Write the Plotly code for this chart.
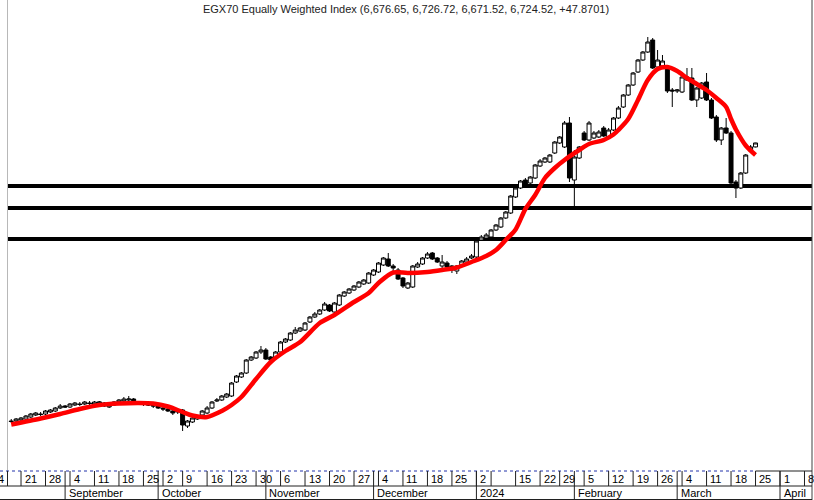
import numpy as np
import pandas as pd
import plotly.graph_objects as go

# ---------------- data ----------------
title_text = "EGX70 Equally Weighted Index (6,676.65, 6,726.72, 6,671.52, 6,724.52, +47.8701)"
holidays = ["2023-09-28", "2023-10-05", "2024-01-01", "2024-01-07", "2024-01-25",
            "2024-04-09", "2024-04-10", "2024-04-11"]
first_day = "2023-08-17"

opens = [3388, 3388, 3400, 3412, 3436, 3460, 3472, 3472, 3496, 3508,
         3544, 3568, 3556, 3580, 3592, 3592, 3604, 3592, 3604, 3604,
         3556, 3580, 3616, 3628, 3640, 3652, 3604, 3592, 3592, 3580,
         3568, 3544, 3532, 3508, 3496, 3520, 3328, 3376, 3412, 3460,
         3484, 3544, 3628, 3640, 3676, 3688, 3856, 3916, 3964, 4120,
         4144, 4216, 4240, 4156, 4144, 4216, 4336, 4360, 4444, 4468,
         4480, 4576, 4636, 4672, 4720, 4780, 4696, 4780, 4888, 4924,
         4960, 4996, 5032, 5044, 5140, 5176, 5260, 5332, 5248, 5200,
         5104, 4984, 4996, 5236, 5272, 5344, 5404, 5344, 5248, 5284,
         5248, 5188, 5248, 5296, 5344, 5356, 5560, 5584, 5596, 5680,
         5716, 5824, 5884, 6076, 6184, 6280, 6244, 6304, 6448, 6496,
         6496, 6604, 6724, 6676, 6964, 6280, 6544, 6844, 6760, 6784,
         6796, 6904, 6796, 6880, 7024, 7156, 7300, 7420, 7576, 7720,
         7816, 7960, 7636, 7648, 7636, 7360, 7348, 7336, 7480, 7504,
         7240, 7264, 7456, 7240, 7036, 6760, 6904, 6844, 6256, 6184,
         6364, 6628, 6676.65]
highs = [3412, 3424, 3436, 3460, 3484, 3496, 3496, 3520, 3532, 3556,
         3592, 3580, 3604, 3616, 3616, 3628, 3628, 3628, 3628, 3616,
         3592, 3628, 3652, 3676, 3688, 3664, 3616, 3616, 3616, 3592,
         3580, 3568, 3544, 3520, 3532, 3532, 3400, 3436, 3460, 3520,
         3568, 3628, 3664, 3700, 3724, 3856, 3940, 3976, 4132, 4168,
         4228, 4288, 4264, 4168, 4228, 4348, 4384, 4456, 4516, 4516,
         4576, 4648, 4696, 4732, 4816, 4792, 4816, 4912, 4948, 4984,
         5020, 5068, 5092, 5176, 5212, 5296, 5356, 5404, 5272, 5224,
         5116, 5056, 5260, 5296, 5356, 5416, 5416, 5356, 5380, 5308,
         5260, 5260, 5320, 5356, 5392, 5584, 5620, 5644, 5692, 5752,
         5836, 5908, 6100, 6196, 6280, 6304, 6328, 6472, 6532, 6556,
         6592, 6748, 6808, 6988, 7036, 6640, 6688, 6868, 6988, 6868,
         6880, 6928, 6904, 7036, 7168, 7312, 7432, 7576, 7732, 7828,
         7996, 7984, 7840, 7780, 7660, 7384, 7372, 7528, 7624, 7624,
         7396, 7456, 7564, 7264, 7060, 6916, 7024, 6868, 6280, 6376,
         6592, 6700, 6726.72]
lows = [3364, 3376, 3388, 3400, 3424, 3448, 3448, 3460, 3484, 3496,
        3532, 3544, 3544, 3568, 3568, 3580, 3580, 3580, 3592, 3556,
        3544, 3568, 3604, 3616, 3628, 3592, 3580, 3568, 3568, 3544,
        3532, 3508, 3496, 3460, 3472, 3268, 3304, 3364, 3400, 3448,
        3472, 3532, 3616, 3628, 3664, 3676, 3844, 3904, 3952, 4108,
        4132, 4192, 4120, 4108, 4132, 4204, 4324, 4348, 4432, 4456,
        4468, 4564, 4624, 4660, 4708, 4696, 4684, 4768, 4876, 4912,
        4948, 4984, 5020, 5032, 5128, 5164, 5248, 5236, 5176, 5080,
        4984, 4972, 4984, 5224, 5260, 5332, 5320, 5284, 5224, 5224,
        5164, 5152, 5236, 5284, 5332, 5344, 5548, 5572, 5584, 5668,
        5704, 5812, 5872, 6064, 6172, 6220, 6232, 6292, 6436, 6484,
        6484, 6592, 6712, 6664, 6256, 5956, 6532, 6748, 6748, 6772,
        6784, 6796, 6784, 6868, 7012, 7144, 7288, 7408, 7564, 7708,
        7804, 7612, 7624, 7624, 7324, 7156, 7324, 7324, 7468, 7228,
        7156, 7252, 7228, 7012, 6736, 6700, 6832, 6232, 6064, 6172,
        6352, 6616, 6671.52]
closes = [3382, 3412, 3424, 3448, 3472, 3484, 3466, 3508, 3520, 3544,
          3568, 3556, 3592, 3604, 3586, 3616, 3598, 3616, 3616, 3568,
          3580, 3616, 3640, 3652, 3652, 3604, 3592, 3604, 3580, 3568,
          3544, 3532, 3508, 3484, 3508, 3340, 3388, 3424, 3448, 3508,
          3544, 3616, 3640, 3688, 3712, 3844, 3928, 3964, 4120, 4156,
          4216, 4240, 4132, 4120, 4216, 4336, 4372, 4444, 4480, 4504,
          4564, 4636, 4672, 4720, 4792, 4708, 4804, 4900, 4936, 4972,
          5008, 5056, 5080, 5164, 5200, 5284, 5344, 5248, 5224, 5092,
          5008, 5044, 5248, 5272, 5344, 5392, 5332, 5296, 5296, 5236,
          5200, 5248, 5308, 5332, 5368, 5548, 5596, 5620, 5680, 5740,
          5824, 5896, 6088, 6184, 6268, 6232, 6316, 6460, 6508, 6544,
          6580, 6736, 6796, 6964, 6304, 6556, 6676, 6760, 6964, 6844,
          6856, 6808, 6880, 7024, 7144, 7300, 7420, 7564, 7720, 7816,
          7936, 7624, 7720, 7708, 7348, 7348, 7360, 7516, 7516, 7240,
          7384, 7444, 7240, 7024, 6760, 6904, 6844, 6244, 6184, 6364,
          6580, 6676.65, 6724.52]

ma_offsets = [0, 6, 10, 14, 18, 22, 26, 29, 32, 35, 37, 40, 43, 45, 47, 50, 53, 56, 59, 63,
              66, 70, 73, 75, 78, 81, 85, 88, 91, 94, 97, 99, 101, 103, 105, 107, 109, 111,
              113, 116, 118, 121, 123, 124, 126, 128, 130, 132, 134, 136, 138, 140, 142,
              144, 146, 147, 148, 150, 152]
ma_values = [3346, 3418, 3472, 3532, 3580, 3598, 3604, 3598, 3562, 3496, 3454, 3436, 3508,
             3580, 3676, 3892, 4096, 4228, 4336, 4564, 4660, 4816, 4924, 5044, 5170, 5164,
             5176, 5200, 5230, 5296, 5368, 5440, 5560, 5686, 5932, 6100, 6304, 6424, 6520,
             6640, 6712, 6760, 6826, 6880, 7012, 7240, 7480, 7612, 7636, 7588, 7504, 7432,
             7360, 7264, 7156, 7012, 6886, 6694, 6580]

hline_values = [6208, 5944, 5572]

week_labels = ["14", "21", "28", "4", "11", "18", "25", "2", "9", "16", "23", "30", "6",
               "13", "20", "27", "4", "11", "18", "25", "2", "", "15", "22", "29", "5",
               "12", "19", "26", "4", "11", "18", "25", "1", "8"]
month_labels = ["September", "October", "November", "December", "2024",
                "February", "March", "April"]

# ---------------- trading calendar (Sun-Thu) ----------------
cal = pd.bdate_range("2023-08-13", "2024-04-20", freq="C",
                     weekmask="Sun Mon Tue Wed Thu", holidays=holidays)
pos = pd.Series(np.arange(len(cal), dtype=float), index=cal)
dates = cal[cal >= pd.Timestamp(first_day)][:len(closes)]
xc = pos.loc[dates].values
ma_x = xc[np.array(ma_offsets)]

s = cal.to_series()
week_key = s - pd.to_timedelta(s.dt.weekday, unit="D")
week_first = s.groupby(week_key.values).first()
week_first = week_first[week_first.index >= pd.Timestamp("2023-08-14")][:len(week_labels)]
week_pos = pos.loc[week_first.values].values

month_first = s.groupby(s.dt.strftime("%Y-%m").values).first()
month_first = month_first[month_first.index >= "2023-09"][:len(month_labels)]
month_pos = pos.loc[month_first.values].values

# ---------------- layout geometry ----------------
W, H = 814, 500
plot_w, plot_h = 812, 471
px_per_day = 4.8966
x0_px = 21.03
left_edge_px = 7.5
p0 = pos.loc[pd.Timestamp("2023-08-21")]
xr = [p0 - x0_px / px_per_day, p0 + (plot_w - x0_px) / px_per_day]
yr = [2788, 8440]


def py(pix):
    return (plot_h - pix) / plot_h


FONT = "Liberation Sans, Arial, sans-serif"
LINE = "#202020"

fig = go.Figure()
fig.add_trace(go.Candlestick(
    x=xc, open=opens, high=highs, low=lows, close=closes,
    increasing=dict(line=dict(color="black", width=1), fillcolor="white"),
    decreasing=dict(line=dict(color="black", width=1), fillcolor="black"),
    whiskerwidth=0, showlegend=False, hoverinfo="skip"))
fig.add_trace(go.Scatter(
    x=ma_x, y=ma_values, mode="lines", showlegend=False, hoverinfo="skip",
    line=dict(color="#ff0000", width=4.5, shape="spline", smoothing=0.8)))

shapes = []
for v in hline_values:
    shapes.append(dict(type="line", xref="paper", yref="y", x0=left_edge_px / plot_w, x1=1,
                       y0=v, y1=v, line=dict(color="black", width=4), layer="below"))
# left grey edge line and right border
shapes.append(dict(type="line", xref="paper", yref="paper",
                   x0=left_edge_px / plot_w, x1=left_edge_px / plot_w,
                   y0=py(471), y1=1, line=dict(color="#b8b8b8", width=1)))
shapes.append(dict(type="line", xref="paper", yref="paper", x0=1, x1=1,
                   y0=py(500), y1=1, line=dict(color="#404040", width=1)))
# date-axis rows
shapes.append(dict(type="line", xref="x", yref="paper", x0=xc[-1], x1=xr[1], y0=py(471), y1=py(471),
                   line=dict(color=LINE, width=1)))
shapes.append(dict(type="line", xref="x", yref="paper", x0=xr[0], x1=xc[-1], y0=py(471), y1=py(471),
                   line=dict(color="#2233aa", width=1, dash="dot")))
shapes.append(dict(type="line", xref="paper", yref="paper", x0=0, x1=1, y0=py(486), y1=py(486),
                   line=dict(color=LINE, width=1)))
shapes.append(dict(type="line", xref="paper", yref="paper", x0=0, x1=1, y0=py(499.5), y1=py(499.5),
                   line=dict(color=LINE, width=1)))
shapes.append(dict(type="line", xref="paper", yref="paper",
                   x0=left_edge_px / plot_w, x1=left_edge_px / plot_w,
                   y0=py(486), y1=py(471), line=dict(color=LINE, width=1)))
for p in week_pos:
    shapes.append(dict(type="line", xref="x", yref="paper", x0=p, x1=p, y0=py(486), y1=py(471),
                       line=dict(color=LINE, width=1)))
for p in month_pos:
    shapes.append(dict(type="line", xref="x", yref="paper", x0=p, x1=p, y0=py(499.5), y1=py(471),
                       line=dict(color=LINE, width=1)))

annotations = []
for p, lab in zip(week_pos, week_labels):
    if not lab:
        continue
    if p < xr[0]:
        # week that starts left of the chart: its label is clipped by the left edge
        ref, xv, shift = "paper", (p - xr[0]) / (xr[1] - xr[0]), -6.5
    else:
        ref, xv, shift = "x", p, 1.5
    annotations.append(dict(text=lab, xref=ref, yref="paper", x=xv, y=py(478.5),
                            xanchor="left", yanchor="middle", xshift=shift, showarrow=False,
                            font=dict(family=FONT, size=11, color="black")))
for p, lab in zip(month_pos, month_labels):
    annotations.append(dict(text=lab, xref="x", yref="paper", x=p, y=py(493),
                            xanchor="left", yanchor="middle", xshift=1.5, showarrow=False,
                            font=dict(family=FONT, size=11, color="black")))

fig.update_layout(
    width=W, height=H,
    margin=dict(l=0, r=W - plot_w, t=0, b=H - plot_h, pad=0),
    paper_bgcolor="white", plot_bgcolor="white",
    title=dict(text=title_text, x=0.5, xref="paper", y=1 - 9.5 / H, yref="container",
               xanchor="center", yanchor="middle",
               font=dict(family=FONT, size=11, color="#222222")),
    xaxis=dict(range=xr, showgrid=False, zeroline=False, showticklabels=False, ticks="",
               showline=False, rangeslider=dict(visible=False), fixedrange=True),
    yaxis=dict(range=yr, showgrid=False, zeroline=False, showticklabels=False, ticks="",
               showline=False, fixedrange=True),
    boxgap=0.1, boxgroupgap=0.1,
    shapes=shapes, annotations=annotations, showlegend=False,
)

fig.write_html("out.html", config={"displayModeBar": False},
               post_script="document.body.style.margin='0';document.body.style.overflow='hidden';")
